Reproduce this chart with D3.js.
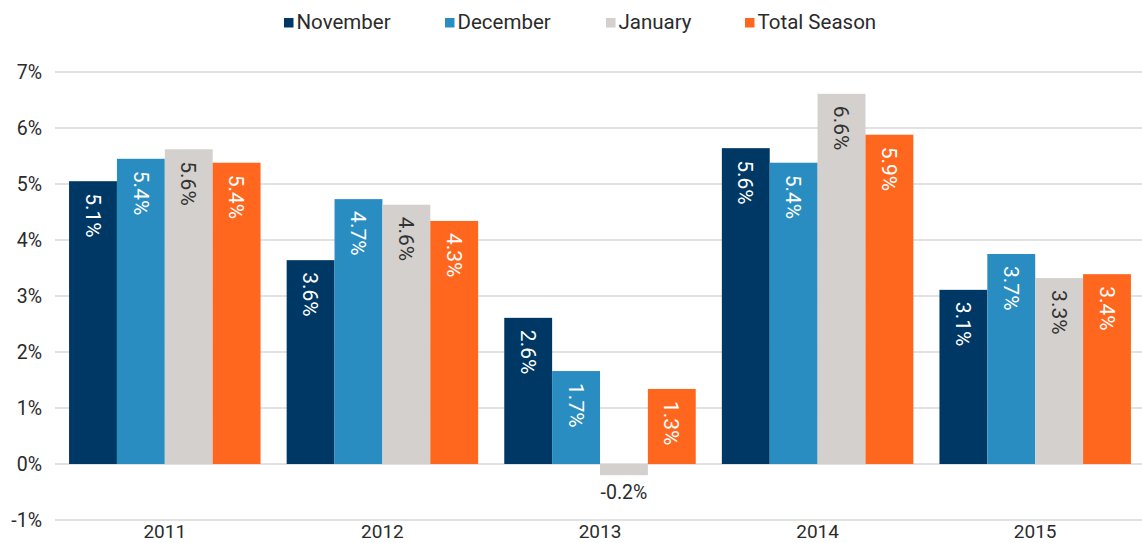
<!DOCTYPE html>
<html>
<head>
<meta charset="utf-8">
<script src="https://d3js.org/d3.v7.min.js"></script>
<style>
  body { margin: 0; background: #fff; }
  svg { display: block; font-family: Roboto, "Liberation Sans", sans-serif; }
</style>
</head>
<body>
<svg id="chart" width="1142" height="543"></svg>
<script>
const years = ["2011", "2012", "2013", "2014", "2015"];
const seriesNames = ["November", "December", "January", "Total Season"];
const november = [5.05, 3.64, 2.61, 5.64, 3.11];
const december = [5.45, 4.73, 1.66, 5.38, 3.75];
const january = [5.62, 4.63, -0.2, 6.61, 3.32];
const totalSeason = [5.38, 4.34, 1.34, 5.88, 3.39];
const labelsNov = ["5.1%", "3.6%", "2.6%", "5.6%", "3.1%"];
const labelsDec = ["5.4%", "4.7%", "1.7%", "5.4%", "3.7%"];
const labelsJan = ["5.6%", "4.6%", "-0.2%", "6.6%", "3.3%"];
const labelsTot = ["5.4%", "4.3%", "1.3%", "5.9%", "3.4%"];
const yTicks = [-1, 0, 1, 2, 3, 4, 5, 6, 7];

const colours = ["#003865", "#2a8dc1", "#d3d0cd", "#ff671f"];
const labelColours = ["#fff", "#fff", "#333", "#fff"];
const textColour = "#2b2b2b";

const allValues = [november, december, january, totalSeason];
const allLabels = [labelsNov, labelsDec, labelsJan, labelsTot];

const width = 1142;
const height = 543;
const margin = { left: 56, right: -2, top: 72, bottom: 23 };

const svg = d3.select("#chart");

const x0 = d3.scaleBand()
  .domain(years)
  .range([margin.left, width - margin.right])
  .paddingInner(0.12)
  .paddingOuter(0.06);

const x1 = d3.scaleBand()
  .domain(seriesNames)
  .range([0, x0.bandwidth()]);

const y = d3.scaleLinear()
  .domain([-1, 7])
  .range([520, 72]);

// gridlines
svg.append("g")
  .selectAll("line")
  .data(yTicks)
  .join("line")
  .attr("x1", 55)
  .attr("x2", width)
  .attr("y1", (d) => y(d))
  .attr("y2", (d) => y(d))
  .attr("stroke", "#d9d9d9")
  .attr("stroke-width", 1.5);

// y labels
svg.append("g")
  .selectAll("text")
  .data(yTicks)
  .join("text")
  .attr("x", 42)
  .attr("y", (d) => y(d))
  .attr("dy", "0.35em")
  .attr("text-anchor", "end")
  .attr("font-size", 19.5)
  .attr("fill", textColour)
  .text((d) => d + "%");

// x labels
svg.append("g")
  .selectAll("text")
  .data(years)
  .join("text")
  .attr("x", (d) => x0(d) + x0.bandwidth() / 2)
  .attr("y", 538)
  .attr("text-anchor", "middle")
  .attr("font-size", 19)
  .attr("fill", textColour)
  .text((d) => d);

// build bar rows
const rows = [];
seriesNames.forEach((s, si) => {
  years.forEach((yr, yi) => {
    rows.push({ series: s, si: si, year: yr, value: allValues[si][yi], label: allLabels[si][yi] });
  });
});

svg.append("g")
  .selectAll("rect")
  .data(rows)
  .join("rect")
  .attr("x", (d) => x0(d.year) + x1(d.series))
  .attr("width", x1.bandwidth())
  .attr("y", (d) => y(Math.max(0, d.value)))
  .attr("height", (d) => Math.abs(y(d.value) - y(0)))
  .attr("fill", (d) => colours[d.si]);

// labels inside bars (rotated) or below for negatives
const labels = svg.append("g");
rows.forEach((d) => {
  const cx = x0(d.year) + x1(d.series) + x1.bandwidth() / 2;
  if (d.value >= 0) {
    labels.append("text")
      .attr("transform", `translate(${cx},${y(d.value) + 12}) rotate(90)`)
      .attr("dy", "0.35em")
      .attr("text-anchor", "start")
      .attr("font-size", 21)
      .attr("fill", labelColours[d.si])
      .text(d.label);
  } else {
    labels.append("text")
      .attr("x", cx)
      .attr("y", y(d.value) + 17)
      .attr("dy", "0.35em")
      .attr("text-anchor", "middle")
      .attr("font-size", 19.5)
      .attr("fill", textColour)
      .text(d.label);
  }
});

// legend
const legendX = [284, 445, 606, 745];
const legend = svg.append("g")
  .selectAll("g")
  .data(seriesNames)
  .join("g")
  .attr("transform", (d, i) => `translate(${legendX[i]},0)`);

legend.append("rect")
  .attr("x", 0)
  .attr("y", 18)
  .attr("width", 9.5)
  .attr("height", 9.5)
  .attr("fill", (d, i) => colours[i]);

legend.append("text")
  .attr("x", 12.5)
  .attr("y", 29)
  .attr("font-size", 20.5)
  .attr("fill", textColour)
  .text((d) => d);
</script>
</body>
</html>
